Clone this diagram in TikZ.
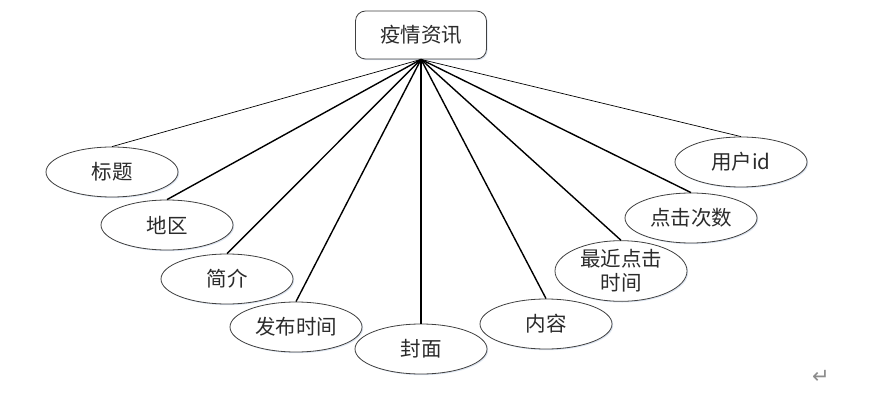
\documentclass[tikz,border=0pt]{standalone}
\usepackage{fontspec}
\setmainfont{Noto Sans CJK SC}
\newfontfamily\symfont{DejaVu Sans}
\usetikzlibrary{shapes.geometric,shadows}
\definecolor{ink}{HTML}{2B2B2B}
\definecolor{glow}{HTML}{9DB4D6}
\tikzset{
  entity/.style={draw=ink!90, rounded corners=10pt, line width=0.8pt, fill=white, minimum width=131pt, minimum height=48pt, inner sep=0pt, font=\fontsize{20.5}{22}\selectfont, drop shadow={shadow xshift=1.2pt, shadow yshift=-1.2pt, fill=glow, opacity=0.35}},
  attr/.style={ellipse, draw=ink!90, line width=0.8pt, fill=white, minimum width=132pt, minimum height=50pt, inner sep=0pt, align=center, font=\fontsize{20.5}{24}\selectfont, drop shadow={shadow xshift=1.2pt, shadow yshift=-1.2pt, fill=glow, opacity=0.35}},
  link/.style={draw=black, line width=1.4pt},
  thinlink/.style={draw=black, line width=0.7pt}
}
\begin{document}
\begin{tikzpicture}[x=1pt, y=-1pt, text=ink]
  \useasboundingbox (0,0) rectangle (882,395);

  \node[entity] (info) at (421,35) {疫情资讯};

  % attributes, left to right
  \node[attr] (title) at (112,172) {标题};
  \node[attr] (region) at (167,225) {地区};
  \node[attr] (brief) at (227,279) {简介};
  \node[attr] (pubtime) at (296,327) {发布时间};
  \node[attr] (cover) at (421,349) {封面};
  \node[attr] (content) at (546,324) {内容};
  \node[attr] (lastclick) at (621,271) {最近点击\\时间};
  \node[attr] (clicks) at (691,218) {点击次数};
  \node[attr] (userid) at (741,162) {用户id};

  \draw[thinlink] (info.south) -- (title.north);
  \foreach \a in {region,brief,pubtime,cover,content,lastclick,clicks}
    \draw[link] (info.south) -- (\a.north);
  \draw[thinlink] (info.south) -- (userid.north);

  \node[text=black!45, font=\symfont\fontsize{21}{21}\selectfont] (mark) at (821,377) {↵};
\end{tikzpicture}
\end{document}
